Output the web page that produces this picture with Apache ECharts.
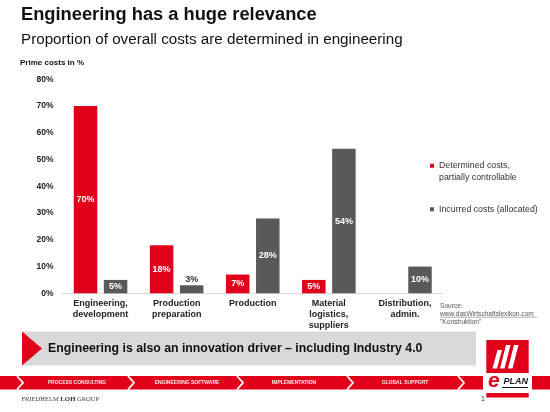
<!DOCTYPE html>
<html>
<head>
<meta charset="utf-8">
<script src="https://cdn.jsdelivr.net/npm/echarts@6/dist/echarts.min.js"></script>
<style>
html,body{margin:0;padding:0;background:#fff;}
#chart{width:550px;height:412px;}
</style>
</head>
<body>
<div id="chart"></div>
<script>
// ---- Data ----
const categories = ['Engineering,\ndevelopment', 'Production\npreparation', 'Production', 'Material\nlogistics,\nsuppliers', 'Distribution,\nadmin.'];
const determinedName = 'Determined costs,\npartially controllable';
const incurredName = 'Incurred costs (allocated)';
const determined = [70, 18, 7, 5, 0];
const incurred = [5, 3, 28, 54, 10];
const yMin = 0, yMax = 80, yInterval = 10;
const bandLabels = ['PROCESS CONSULTING', 'ENGINEERING SOFTWARE', 'IMPLEMENTATION', 'GLOBAL SUPPORT'];

// ---- Styles ----
const RED = '#e1001a';
const GREY = '#595959';
const FONT = '"Liberation Sans", Arial, sans-serif';

function toItems(arr) {
  return arr.map(v => v < 4 && v > 0
    ? { value: v, label: { position: 'top', color: '#333', distance: 1 } }
    : v);
}

const barLabel = {
  show: true,
  position: 'inside',
  color: '#fff',
  fontWeight: 'bold',
  fontSize: 9,
  fontFamily: FONT,
  formatter: p => (p.value ? p.value + '%' : '')
};

const chart = echarts.init(document.getElementById('chart'), null, { renderer: 'canvas' });

const bandX = [20, 131, 240, 350, 461];
const bandCenters = [77, 187, 294, 405];

const graphics = [
  // Title
  { type: 'text', style: { x: 21, y: 15, text: 'Engineering has a huge relevance', font: 'bold 18.3px ' + FONT, fill: '#111', textVerticalAlign: 'middle' } },
  { type: 'text', style: { x: 21, y: 39.5, text: 'Proportion of overall costs are determined in engineering', font: '15.2px ' + FONT, fill: '#111', textVerticalAlign: 'middle' } },
  { type: 'text', style: { x: 20, y: 63, text: 'Prime costs in %', font: 'bold 8px ' + FONT, fill: '#111', textVerticalAlign: 'middle' } },
  // Source
  { type: 'text', style: { x: 440, y: 306.5, text: 'Source:', font: '6.6px ' + FONT, fill: '#555', textVerticalAlign: 'middle' } },
  { type: 'text', style: { x: 440, y: 313.8, text: 'www.dasWirtschaftslexikon.com', font: '6.6px ' + FONT, fill: '#555', textVerticalAlign: 'middle' } },
  { type: 'line', shape: { x1: 440, y1: 317.2, x2: 537, y2: 317.2 }, style: { stroke: '#777', lineWidth: 0.6 } },
  { type: 'text', style: { x: 440, y: 321.8, text: '"Konstruktion"', font: '6.6px ' + FONT, fill: '#555', textVerticalAlign: 'middle' } },
  // Banner
  { type: 'rect', shape: { x: 22, y: 331.5, width: 454, height: 34 }, style: { fill: '#d9d9d9' } },
  { type: 'polygon', shape: { points: [[22, 331.5], [42, 348.5], [22, 365.5]] }, style: { fill: RED } },
  { type: 'text', style: { x: 48, y: 349, text: 'Engineering is also an innovation driver \u2013 including Industry 4.0', font: 'bold 12.3px ' + FONT, fill: '#111', textVerticalAlign: 'middle' } },
  // Red band
  { type: 'rect', shape: { x: 0, y: 376, width: 550, height: 13.5 }, style: { fill: RED } }
];
bandX.forEach(x => {
  graphics.push({ type: 'polyline', shape: { points: [[x - 3, 376], [x + 3, 382.75], [x - 3, 389.5]] }, style: { stroke: '#fff', lineWidth: 1.8, fill: null } });
});
bandLabels.forEach((t, i) => {
  graphics.push({ type: 'text', style: { x: bandCenters[i], y: 383, text: t, font: 'bold 5px ' + FONT, fill: '#fde8ea', textAlign: 'center', textVerticalAlign: 'middle' } });
});
// Logo
graphics.push(
  { type: 'rect', shape: { x: 483, y: 375, width: 49, height: 16 }, style: { fill: '#fff' } },
  { type: 'rect', shape: { x: 486.3, y: 340, width: 42.4, height: 33 }, style: { fill: RED } },
  { type: 'polygon', shape: { points: [[497.5, 350], [502, 350], [497, 368.5], [492.5, 368.5]] }, style: { fill: '#fff' } },
  { type: 'polygon', shape: { points: [[506, 345], [510.5, 345], [504.5, 368.5], [500, 368.5]] }, style: { fill: '#fff' } },
  { type: 'polygon', shape: { points: [[514, 345], [518.5, 345], [512.5, 368.5], [508, 368.5]] }, style: { fill: '#fff' } },
  { type: 'text', style: { x: 488, y: 381.5, text: 'e', font: 'italic bold 21px ' + FONT, fill: RED, textVerticalAlign: 'middle' } },
  { type: 'text', style: { x: 503.5, y: 382, text: 'PLAN', font: 'italic bold 9px ' + FONT, fill: '#1a1a1a', textVerticalAlign: 'middle' } },
  { type: 'line', shape: { x1: 502, y1: 387.5, x2: 528, y2: 387.5 }, style: { stroke: '#1a1a1a', lineWidth: 1 } },
  { type: 'rect', shape: { x: 486.3, y: 393, width: 42.4, height: 4.5 }, style: { fill: RED } },
  // Footer
  { type: 'text', style: { x: 481, y: 399, text: '1', font: '7px ' + FONT, fill: '#333', textVerticalAlign: 'middle' } },
  { type: 'text', style: { x: 21.5, y: 399, text: '{a|FRIEDHELM }{b|LOH}{a| GROUP}', rich: {
      a: { font: '6.5px "Liberation Serif", "DejaVu Serif", serif', fill: '#444' },
      b: { font: 'bold 6.8px "Liberation Serif", "DejaVu Serif", serif', fill: '#333' }
    }, textVerticalAlign: 'middle' } }
);

const legendText = { fontSize: 8.8, lineHeight: 11.5, color: '#333', fontFamily: FONT };

const option = {
  animation: false,
  backgroundColor: '#fff',
  textStyle: { fontFamily: FONT },
  grid: { left: 62.5, right: 107, top: 79.3, bottom: 118.7, containLabel: false },
  legend: [
    {
      data: [determinedName],
      left: 430, top: 160, orient: 'vertical', padding: 0,
      icon: 'path://M0,0H4V4H0Z M0,15.5L0.01,15.5', itemWidth: 4, itemHeight: 15.5,
      textStyle: legendText,
      selectedMode: false
    },
    {
      data: [incurredName],
      left: 430, top: 203.5, orient: 'vertical', padding: 0,
      icon: 'rect', itemWidth: 4, itemHeight: 4,
      textStyle: legendText,
      selectedMode: false
    }
  ],
  xAxis: {
    type: 'category',
    data: categories,
    axisLine: { lineStyle: { color: '#d9d9d9', width: 1 } },
    axisTick: { show: false },
    axisLabel: { fontSize: 9, fontWeight: 'bold', color: '#222', lineHeight: 11, margin: 5, interval: 0, fontFamily: FONT }
  },
  yAxis: {
    type: 'value',
    min: yMin, max: yMax, interval: yInterval,
    axisLine: { show: false },
    axisTick: { show: false },
    splitLine: { show: false },
    axisLabel: { formatter: '{value}%', fontSize: 8.5, fontWeight: 'bold', color: '#222', margin: 9, fontFamily: FONT }
  },
  series: [
    {
      name: determinedName, type: 'bar', data: toItems(determined),
      itemStyle: { color: RED }, barWidth: 23.5, barGap: '28%',
      label: barLabel
    },
    {
      name: incurredName, type: 'bar', data: toItems(incurred),
      itemStyle: { color: GREY }, barWidth: 23.5, barGap: '28%',
      label: barLabel
    }
  ],
  graphic: graphics
};
chart.setOption(option);
</script>
</body>
</html>
